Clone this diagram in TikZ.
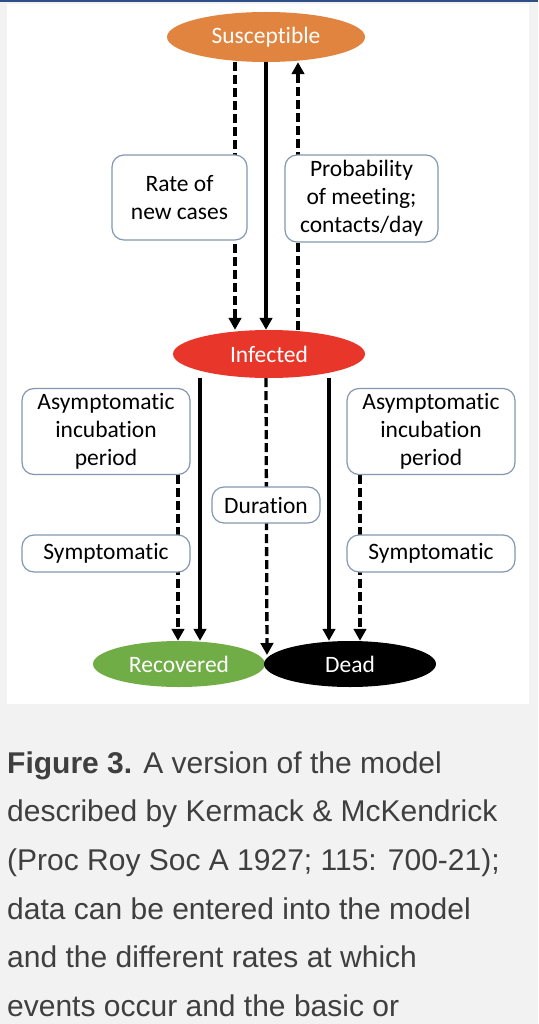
\documentclass[tikz,border=0pt]{standalone}
\usepackage{fontspec}
\setmainfont{Carlito}[Ligatures={NoCommon,NoContextual}]
\newfontfamily\capfont{Liberation Sans}
\usetikzlibrary{shapes.geometric,arrows.meta}
\definecolor{suscol}{HTML}{E0843F}
\definecolor{infcol}{HTML}{E8372A}
\definecolor{reccol}{HTML}{70AD47}
\definecolor{boxcol}{HTML}{8497B0}
\definecolor{pagegray}{HTML}{F2F2F2}
\definecolor{barblue}{HTML}{2D4F85}
\definecolor{captext}{HTML}{3F3F3F}
\pgfdeclarelayer{bg}
\pgfdeclarelayer{lines}
\pgfsetlayers{bg,lines,main}

\begin{document}
\begin{tikzpicture}[x=1pt,y=-1pt,
  state/.style={ellipse,inner sep=0pt,text=white,font=\fontsize{23.5}{28}\selectfont},
  factor/.style={draw=boxcol,line width=1.2pt,fill=white,rounded corners=12pt,inner sep=0pt,align=center,font=\fontsize{23.5}{28}\selectfont},
  arr/.style={line width=3.3pt,-{Triangle[length=12pt,width=12.5pt]}},
  darr/.style={arr,dash pattern=on 9pt off 4pt},
  captionline/.style={anchor=base west,inner sep=0pt,text=captext,font=\capfont\fontsize{30}{36}\selectfont}]
\useasboundingbox (0,0) rectangle (538,1024);
\begin{pgfonlayer}{bg}
\fill[pagegray] (0,0) rectangle (538,1024);
\fill[white] (7,4) rectangle (529,704);
\fill[barblue] (0,0) rectangle (538,2.5);
\end{pgfonlayer}

% compartments
\node[state,fill=suscol,minimum width=198pt,minimum height=50pt] (sus) at (266,37) {Susceptible};
\node[state,fill=infcol,minimum width=192pt,minimum height=48pt] (inf) at (269,354) {Infected};
\node[state,fill=reccol,minimum width=172pt,minimum height=46pt] (rec) at (179,664) {Recovered};
\node[state,fill=black,minimum width=172pt,minimum height=46pt] (dead) at (350,664) {Dead};
\coordinate (meet) at (267,655);

% rates
\node[factor,minimum width=135pt,minimum height=85pt] (rate) at (179.5,197.5) {Rate of\\new cases};
\node[factor,minimum width=153pt,minimum height=87pt] (prob) at (361.5,198.5) {Probability\\of meeting;\\contacts/day};
\node[factor,minimum width=168pt,minimum height=86pt] (asymL) at (106,431.5) {Asymptomatic\\incubation\\period};
\node[factor,minimum width=168pt,minimum height=86pt] (asymR) at (431,431.5) {Asymptomatic\\incubation\\period};
\node[factor,minimum width=168pt,minimum height=37pt] (symL) at (106,553.5) {Symptomatic};
\node[factor,minimum width=168pt,minimum height=37pt] (symR) at (431,553.5) {Symptomatic};
\node[factor,minimum width=108pt,minimum height=36pt] (dur) at (266,505) {Duration};

\begin{pgfonlayer}{lines}
\draw[darr] (sus.south -| 235,0) -- (inf.north -| 235,0);
\draw[arr] (sus.south -| 266,0) -- (inf.north -| 266,0);
\draw[darr] (inf.north -| 298,0) -- (sus.south -| 298,0);
\draw[arr] (inf.south -| 200,0) -- (rec.north -| 200,0);
\draw[darr] (asymL.south -| 178,0) -- (rec.north -| 178,0);
\draw[darr] (inf.south -| 266,0) -- (meet);
\draw[arr] (inf.south -| 329,0) -- (dead.north -| 329,0);
\draw[darr] (asymR.south -| 360,0) -- (dead.north -| 360,0);
\end{pgfonlayer}

% caption
\foreach \ln [count=\k] in {{\textbf{Figure 3.} A version of the model},{described by Kermack \& McKendrick},{(Proc Roy Soc A 1927; 115: 700-21);},{data can be entered into the model},{and the different rates at which},{events occur and the basic or}}
  \node[captionline] (cap\k) at (7,{773+48.7*(\k-1)}) {\ln};
\end{tikzpicture}
\end{document}
